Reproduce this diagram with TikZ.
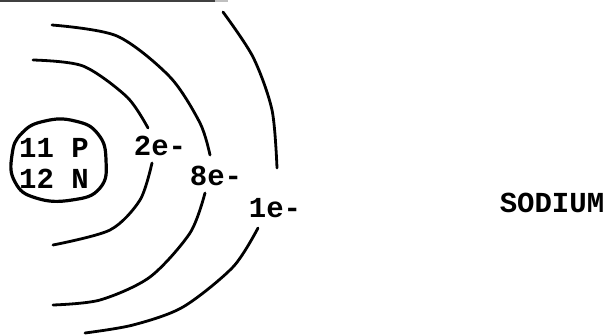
\documentclass[tikz,border=0pt]{standalone}
\usepackage{fontspec}
\setmonofont{Liberation Mono}
\tikzset{
  shell/.style={line width=2.8pt, line cap=round, black},
  lbl/.style={font=\ttfamily\bfseries\fontsize{29}{29}\selectfont, inner sep=0pt},
}
\begin{document}
\begin{tikzpicture}[x=1pt,y=-1pt]
\useasboundingbox (0,0) rectangle (613,335);
% scan edge at top
\draw[black!75, line width=2.2pt] (0,1) -- (215,1);
\draw[gray!50, line width=2pt] (215,1) -- (228,1);
% nucleus
\draw[shell, line width=3.2pt] plot[smooth cycle, tension=0.8] coordinates {(22,133) (45,121) (75,121) (98,134) (106,160) (100,188) (72,200) (36,198) (15,182) (12,155)};
\node[lbl] (p) at (54,148) {11 P};
\node[lbl] (n) at (54,179) {12 N};
% inner shell
\draw[shell] plot[smooth] coordinates {(33,60) (83,66) (127,97) (148,128)};
\draw[shell] plot[smooth] coordinates {(152,163) (140,200) (110,230) (53,245)};
% middle shell
\draw[shell] plot[smooth] coordinates {(52,25) (117,36) (170,77) (200,123) (210,155)};
\draw[shell] plot[smooth] coordinates {(205,193) (190,233) (150,277) (100,300) (53,305)};
% outer shell
\draw[shell] plot[smooth] coordinates {(223,12) (253,57) (272,110) (277,168)};
\draw[shell] plot[smooth] coordinates {(258,228) (233,267) (183,307) (133,325) (85,333)};
% labels
\node[lbl] (e2) at (160,146) {2e-};
\node[lbl] (e8) at (216,176) {8e-};
\node[lbl] (e1) at (275,208) {1e-};
\node[lbl] (name) at (552,203) {SODIUM};
\end{tikzpicture}
\end{document}
